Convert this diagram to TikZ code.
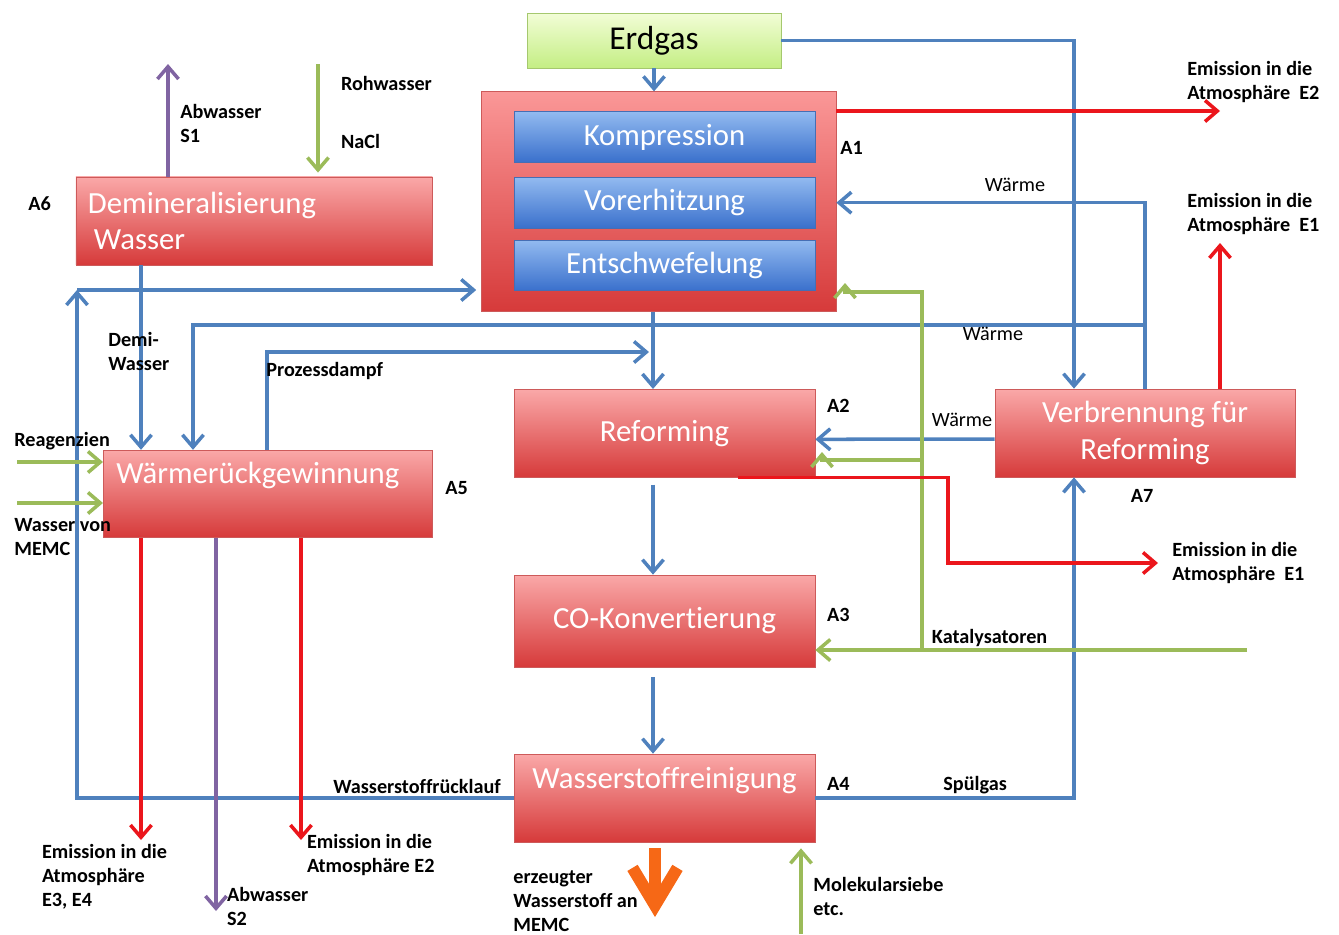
\documentclass[tikz,border=0pt]{standalone}
\usepackage{fontspec}
\setmainfont{Carlito}[Ligatures=NoCommon]
\usepackage{xcolor}
\definecolor{flowblue}{RGB}{79,129,189}
\definecolor{emisred}{RGB}{235,22,28}
\definecolor{feedgreen}{RGB}{155,187,89}
\definecolor{wastepurple}{RGB}{128,100,162}
\definecolor{prodorange}{RGB}{246,104,22}
\definecolor{boxtop}{RGB}{250,168,168}
\definecolor{boxbot}{RGB}{214,58,58}
\definecolor{boxline}{RGB}{205,90,90}
\definecolor{steptop}{RGB}{146,186,240}
\definecolor{stepbot}{RGB}{58,112,204}
\definecolor{stepline}{RGB}{70,110,180}
\definecolor{gastop}{RGB}{242,253,214}
\definecolor{gasbot}{RGB}{196,238,132}
\definecolor{gasline}{RGB}{165,200,110}
\usetikzlibrary{arrows.meta, positioning, calc}

\begin{document}
\begin{tikzpicture}[
    x=0.02cm, y=-0.02cm,
    >={Straight Barb[length=7pt,width=12pt]},
    procnode/.style={draw=boxline, top color=boxtop, bottom color=boxbot, text=white, font=\fontsize{17.5}{21}\selectfont, align=center, minimum width=6.02cm, minimum height=1.76cm, inner sep=2pt},
    stepnode/.style={draw=stepline, top color=steptop, bottom color=stepbot, text=white, font=\fontsize{17.5}{21}\selectfont, minimum width=6.02cm, minimum height=1.01cm, inner sep=2pt},
    gasnode/.style={draw=gasline, top color=gastop, bottom color=gasbot, font=\fontsize{19}{23}\selectfont, minimum width=5.08cm, minimum height=1.1cm},
    uptext/.style={text height=0.45cm, text depth=0.85cm},
    lbl/.style={anchor=base west, inner sep=0pt, align=left, font=\bfseries\fontsize{11.5}{13.8}\selectfont},
    flow/.style={draw=flowblue, line width=2pt, ->},
    emis/.style={draw=emisred, line width=2pt, ->},
    feed/.style={draw=feedgreen, line width=2pt, ->},
    waste/.style={draw=wastepurple, line width=2pt, ->},
    product/.style={draw=prodorange, line width=0.24cm, -{Straight Barb[length=0.75cm,width=0.9cm]}}
  ]
  \useasboundingbox (0,0) rectangle (1339,934);

  % process units
  \node (erdgas) [gasnode] at (654,40.5) {Erdgas};
  \node (a1) [procnode, minimum width=7.09cm, minimum height=4.4cm, top color=boxtop!90!red] at (658.8,201.7) {};
  \node (kompr) [stepnode] at (664.5,137) {Kompression};
  \node (vorerh) [stepnode, below=0.29cm of kompr] {Vorerhitzung};
  \node (entschw) [stepnode, below=0.23cm of vorerh] {Entschwefelung};
  \node (demin) [procnode, minimum width=7.13cm, align=left, text width=6.65cm, font=\fontsize{17.5}{20.5}\selectfont] at (254.2,220.9) {Demineralisierung\\\hspace*{0.12cm}Wasser};
  \node (waermerg) [procnode, uptext, minimum width=6.58cm, minimum height=1.75cm] at (267.8,493.9) {Wärmerückgewinnung\hspace*{0.4cm}};
  \node (reform) [procnode] at (664.5,433.3) {Reforming};
  \node (cokonv) [procnode, minimum height=1.84cm] at (664.5,621) {CO-Konvertierung};
  \node (h2rein) [procnode, uptext] at (664.5,798) {Wasserstoffreinigung};
  \node (verbr) [procnode, minimum width=6.0cm] at (1145,433) {Verbrennung für\\Reforming};

  % unit labels
  \node (lblA1) [lbl] at (840,154.5) {A1};
  \node (lblA2) [lbl] at (826.8,412) {A2};
  \node (lblA3) [lbl] at (826.8,621.5) {A3};
  \node (lblA4) [lbl] at (826.7,790.5) {A4};
  \node (lblA5) [lbl] at (445,494.5) {A5};
  \node (lblA6) [lbl] at (28,210) {A6};
  \node (lblA7) [lbl] at (1130.6,502) {A7};

  % line positions and free ends
  \coordinate (xDemi) at (141,0);
  \coordinate (xWaerme) at (193,0);
  \coordinate (xS2) at (216,0);
  \coordinate (xDampf) at (267,0);
  \coordinate (xE2b) at (301,0);
  \coordinate (xMain) at (653,0);
  \coordinate (xRefE) at (738,0);
  \coordinate (xKat) at (922,0);
  \coordinate (xRedTurn) at (948,0);
  \coordinate (xErd) at (1074,0);
  \coordinate (xHeat) at (1145,0);
  \coordinate (xE1) at (1220,0);
  \coordinate (s1out) at (168,64);
  \coordinate (rohin) at (318,64);
  \coordinate (e2out) at (1220,111);
  \coordinate (e1out) at (1220,243);
  \coordinate (heatsplit) at (1145,325);
  \coordinate (dampfin) at (649,352);
  \coordinate (retturn) at (77,290);
  \coordinate (katin) at (1247,650);
  \coordinate (greenA1) at (845,292);
  \coordinate (greenRef) at (822,460);
  \coordinate (e1low) at (1158,563);
  \coordinate (reagin) at (17,462);
  \coordinate (memcin) at (17,503);
  \coordinate (e34out) at (141,840);
  \coordinate (s2out) at (216,911);
  \coordinate (e2low) at (301,840);
  \coordinate (h2out) at (655,917);
  \coordinate (molin) at (801,934);

  % blue flows
  \draw[flow] (erdgas.south) -- (erdgas.south |- a1.north);
  \draw[flow] (erdgas.east) -| (verbr.north -| xErd);
  \draw[flow] (verbr.north -| xHeat) |- (a1.east |- vorerh.east);
  \draw[flow] (heatsplit) -| (waermerg.north -| xWaerme);
  \draw[flow] ([yshift=-0.12cm]verbr.west) -- ([yshift=-0.12cm]reform.east);
  \draw[flow] (a1.south -| xMain) -- (reform.north -| xMain);
  \draw[flow] (waermerg.north -| xDampf) |- (dampfin);
  \draw[flow] (demin.south -| xDemi) -- (waermerg.north -| xDemi);
  \draw[flow] (h2rein.west) -| (retturn);
  \draw[flow, shorten >=0.1cm] (retturn) -- (a1.west |- retturn);
  \draw[flow] (h2rein.east) -| (verbr.south -| xErd);
  \draw[flow, shorten <=0.14cm] (reform.south -| xMain) -- (cokonv.north -| xMain);
  \draw[flow, shorten <=0.2cm] (cokonv.south -| xMain) -- (h2rein.north -| xMain);

  % green feeds
  \draw[feed] (katin) -- (cokonv.east |- katin);
  \draw[feed] (katin -| xKat) |- (greenA1) -- ++(0,-9);
  \draw[feed] (greenRef -| xKat) -- (greenRef) -- ++(0,-8);
  \draw[feed, shorten >=0.12cm] (molin) -- (h2rein.south -| molin);
  \draw[feed] (reagin) -- (waermerg.west |- reagin);
  \draw[feed] (memcin) -- (waermerg.west |- memcin);
  \draw[feed, shorten >=0.08cm] (rohin) -- (demin.north -| rohin);

  % emissions, waste water, product
  \draw[emis] (a1.east |- e2out) -- (e2out);
  \draw[emis] (verbr.north -| xE1) -- (e1out);
  \draw[emis] (reform.south -| xRefE) -| (xRedTurn |- e1low) -- (e1low);
  \draw[emis] (waermerg.south -| xDemi) -- (e34out);
  \draw[emis] (waermerg.south -| xE2b) -- (e2low);
  \draw[waste] (waermerg.south -| xS2) -- (s2out);
  \draw[waste] (demin.north -| s1out) -- (s1out);
  \draw[product, shorten <=0.12cm] (h2rein.south -| h2out) -- (h2out);

  % stream labels (base = last line)
  \node (lblRoh) [lbl] at (340.7,90.5) {Rohwasser};
  \node (lblNaCl) [lbl] at (340.7,148) {NaCl};
  \node (lblS1) [lbl] at (180,142.3) {Abwasser\\S1};
  \node (lblE2top) [lbl] at (1187,99.8) {Emission in die\\Atmosphäre~~E2};
  \node (lblE1top) [lbl] at (1187,231.3) {Emission in die\\Atmosphäre~~E1};
  \node (lblHeatA1) [lbl, font=\fontsize{11.5}{13.8}\selectfont] at (984.5,191.5) {Wärme};
  \node (lblHeatWr) [lbl, font=\fontsize{11.5}{13.8}\selectfont] at (962.5,340.5) {Wärme};
  \node (lblHeatRef) [lbl, font=\fontsize{11.5}{13.8}\selectfont] at (931.6,426.5) {Wärme};
  \node (lblE1low) [lbl] at (1172,580.8) {Emission in die\\Atmosphäre~~E1};
  \node (lblKat) [lbl] at (931.6,643) {Katalysatoren};
  \node (lblDemi) [lbl] at (108,370.8) {Demi-\\Wasser};
  \node (lblDampf) [lbl] at (266,376.5) {Prozessdampf};
  \node (lblReag) [lbl] at (14,446.5) {Reagenzien};
  \node (lblMemc) [lbl] at (14,555.8) {Wasser von\\MEMC};
  \node (lblE34) [lbl] at (41.7,906.6) {Emission in die\\Atmosphäre\\E3, E4};
  \node (lblS2) [lbl] at (226.7,925.8) {Abwasser\\S2};
  \node (lblE2low) [lbl] at (306.7,872.3) {Emission in die\\Atmosphäre E2};
  \node (lblRueck) [lbl] at (333,793.5) {Wasserstoffrücklauf};
  \node (lblSpuel) [lbl] at (943,790.5) {Spülgas};
  \node (lblH2) [lbl] at (513,931.6) {erzeugter\\Wasserstoff an\\MEMC};
  \node (lblMol) [lbl] at (813,915.8) {Molekularsiebe\\etc.};

\end{tikzpicture}
\end{document}
